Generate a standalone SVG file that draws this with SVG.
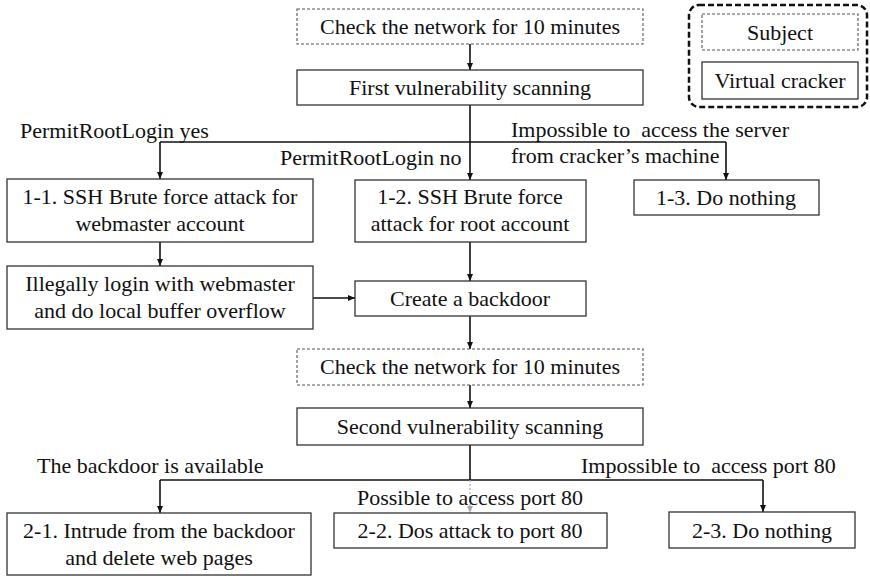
<svg xmlns="http://www.w3.org/2000/svg" width="870" height="576" viewBox="0 0 870 576">
<style>
text{font-family:"Liberation Serif","Times New Roman",serif;font-size:22px;fill:#111}
.c{text-anchor:middle}
.box{fill:#fff;stroke:#333;stroke-width:1.3}
.dash{fill:#fff;stroke:#555;stroke-width:1.1;stroke-dasharray:3 2}
.ln{fill:none;stroke:#111;stroke-width:1.6}
.gl{fill:none;stroke:#aaa;stroke-width:1.2;stroke-dasharray:2 2}
</style>
<defs>
<marker id="ah" markerWidth="8" markerHeight="8" refX="7" refY="4" orient="auto" markerUnits="userSpaceOnUse"><path d="M0,1 L7,4 L0,7 Z" fill="#111"/></marker>
<marker id="ahg" markerWidth="8" markerHeight="8" refX="7" refY="4" orient="auto" markerUnits="userSpaceOnUse"><path d="M0,1 L7,4 L0,7 Z" fill="#aaa"/></marker>
</defs>
<g id="legend">
<rect x="689" y="5" width="178" height="102" rx="10" fill="none" stroke="#111" stroke-width="2.5" stroke-dasharray="6 3"/>
<rect class="dash" x="702" y="14" width="156" height="36"/>
<text class="c" x="780" y="40">Subject</text>
<rect class="box" x="702" y="62" width="156" height="37"/>
<text class="c" x="780" y="88">Virtual cracker</text>
</g>
<g id="connectors">
<path class="ln" d="M470,44 V70" marker-end="url(#ah)"/>
<path class="ln" d="M470,105 V180" marker-end="url(#ah)"/>
<path class="ln" d="M160,142 H726"/>
<path class="ln" d="M160,142 V179" marker-end="url(#ah)"/>
<path class="ln" d="M726,142 V180" marker-end="url(#ah)"/>
<path class="ln" d="M160,242 V266" marker-end="url(#ah)"/>
<path class="ln" d="M470,242 V281" marker-end="url(#ah)"/>
<path class="ln" d="M313,298 H355" marker-end="url(#ah)"/>
<path class="ln" d="M470,316 V349" marker-end="url(#ah)"/>
<path class="ln" d="M470,385 V408" marker-end="url(#ah)"/>
<path class="ln" d="M470,445 V480"/>
<path class="ln" d="M160,480 H763"/>
<path class="ln" d="M160,480 V513" marker-end="url(#ah)"/>
<path class="ln" d="M763,480 V512" marker-end="url(#ah)"/>
<path class="gl" d="M470,480 V513" marker-end="url(#ahg)"/>
</g>
<g id="labels">
<text x="20" y="138">PermitRootLogin yes</text>
<text x="280" y="165">PermitRootLogin no</text>
<text x="511" y="137" xml:space="preserve">Impossible to  access the server</text>
<text x="511" y="163">from cracker’s machine</text>
<text x="37" y="473">The backdoor is available</text>
<text x="581" y="473" xml:space="preserve">Impossible to  access port 80</text>
<text x="357" y="505">Possible to access port 80</text>
</g>
<g id="check1">
<rect class="dash" x="297" y="9" width="346" height="35"/>
<text class="c" x="470" y="34">Check the network for 10 minutes</text>
</g>
<g id="scan1">
<rect class="box" x="297" y="70" width="346" height="35"/>
<text class="c" x="470" y="95">First vulnerability scanning</text>
</g>
<g id="n11">
<rect class="box" x="7" y="179" width="306" height="63"/>
<text class="c" x="160" y="204">1-1. SSH Brute force attack for</text>
<text class="c" x="160" y="231">webmaster account</text>
</g>
<g id="n12">
<rect class="box" x="355" y="180" width="231" height="62"/>
<text class="c" x="470" y="204">1-2. SSH Brute force</text>
<text class="c" x="470" y="231">attack for root account</text>
</g>
<g id="n13">
<rect class="box" x="634" y="180" width="185" height="35"/>
<text class="c" x="726" y="205">1-3. Do nothing</text>
</g>
<g id="illegal">
<rect class="box" x="7" y="266" width="306" height="63"/>
<text class="c" x="160" y="291">Illegally login with webmaster</text>
<text class="c" x="160" y="318">and do local buffer overflow</text>
</g>
<g id="backdoor">
<rect class="box" x="355" y="281" width="231" height="35"/>
<text class="c" x="470" y="306">Create a backdoor</text>
</g>
<g id="check2">
<rect class="dash" x="297" y="349" width="346" height="36"/>
<text class="c" x="470" y="374">Check the network for 10 minutes</text>
</g>
<g id="scan2">
<rect class="box" x="297" y="408" width="346" height="37"/>
<text class="c" x="470" y="434">Second vulnerability scanning</text>
</g>
<g id="n21">
<rect class="box" x="7" y="513" width="304" height="62"/>
<text class="c" x="159" y="538">2-1. Intrude from the backdoor</text>
<text class="c" x="159" y="565">and delete web pages</text>
</g>
<g id="n22">
<rect class="box" x="334" y="513" width="273" height="35"/>
<text class="c" x="470" y="538">2-2. Dos attack to port 80</text>
</g>
<g id="n23">
<rect class="box" x="669" y="512" width="186" height="36"/>
<text class="c" x="762" y="538">2-3. Do nothing</text>
</g>
</svg>
